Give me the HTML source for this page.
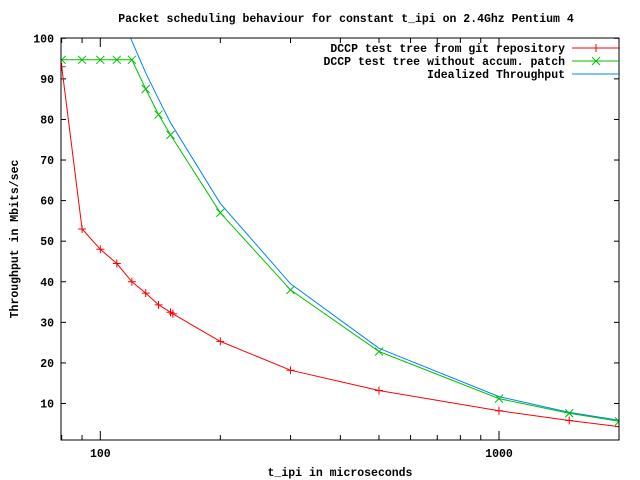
<!DOCTYPE html>
<html><head><meta charset="utf-8"><style>
body{margin:0;background:#fff}
svg{display:block}
text{font-family:"Liberation Mono",monospace;font-size:11.5px;font-weight:bold;fill:#000}
</style></head><body>
<svg id="s" width="640" height="480" xmlns="http://www.w3.org/2000/svg"></svg>
<script>
const X=v=>100.3+398.7*(Math.log10(v)-2);
const Y=v=>38.3+(100-v)*4.0576;
let h='<rect width="640" height="480" fill="#fff"/>';
h+='<text x="346" y="22" text-anchor="middle">Packet scheduling behaviour for constant t_ipi on 2.4Ghz Pentium 4</text>';
for(let v=10;v<=100;v+=10){const y=Y(v);h+=`<line x1="61" y1="${y}" x2="66" y2="${y}" stroke="#000"/><line x1="619" y1="${y}" x2="614" y2="${y}" stroke="#000"/><text x="54" y="${y+4}" text-anchor="end">${v}</text>`;}
for(const v of [80,90,100,200,300,400,500,600,700,800,900,1000,2000]){const x=X(v);const big=(v==100||v==1000);const L=big?9:5;h+=`<line x1="${x}" y1="440" x2="${x}" y2="${440-L}" stroke="#000"/><line x1="${x}" y1="38" x2="${x}" y2="${38+L}" stroke="#000"/>`;}
h+=`<text x="${X(100)}" y="457" text-anchor="middle">100</text><text x="${X(1000)}" y="457" text-anchor="middle">1000</text>`;
h+='<text x="340" y="476" text-anchor="middle">t_ipi in microseconds</text>';
h+='<text transform="translate(18,239) rotate(-90)" text-anchor="middle">Throughput in Mbits/sec</text>';
const red=[[80,93],[90,53],[100,48],[110,44.5],[120,40],[130,37.2],[140,34.3],[150,32.5],[152,32.1],[200,25.3],[300,18.2],[500,13.2],[1000,8.2],[1500,5.8],[2000,4.3]];
const green=[[80,94.7],[90,94.7],[100,94.7],[110,94.7],[120,94.7],[130,87.5],[140,81.2],[150,76.2],[200,57],[300,38],[500,22.8],[1000,11.2],[1500,7.6],[2000,5.6]];
const blue=[[119.2,100],[120,99.3],[130,91.5],[140,85],[150,79.2],[200,59.3],[300,39.5],[500,23.6],[1000,11.7],[1500,7.8],[2000,5.85]];
const pl=(d,c)=>`<polyline fill="none" stroke="${c}" stroke-width="1" points="${d.map(p=>X(p[0]).toFixed(1)+','+Y(p[1]).toFixed(1)).join(' ')}"/>`;
h+='<svg x="61" y="38" width="558" height="402" overflow="hidden"><g transform="translate(-61,-38)">';
h+=pl(blue,'#0080ff')+pl(green,'#00c000')+pl(red,'#ff0000');
for(const p of red){const x=X(p[0]),y=Y(p[1]);h+=`<path d="M${x-4},${y}h8M${x},${y-4}v8" stroke="#f00"/>`;}
for(const p of green){const x=X(p[0]),y=Y(p[1]);h+=`<path d="M${x-4},${y-4}l8,8M${x-4},${y+4}l8,-8" stroke="#00c000"/>`;}
h+='</g></svg>';
h+='<rect x="61" y="38" width="558" height="402" fill="none" stroke="#000"/>';
const leg=[['DCCP test tree from git repository','#f00','+'],['DCCP test tree without accum. patch','#00c000','x'],['Idealized Throughput','#0080ff','']];
leg.forEach((l,i)=>{const y=48+i*13;h+=`<text x="565" y="${y+4}" text-anchor="end">${l[0]}</text><line x1="572" y1="${y}" x2="620" y2="${y}" stroke="${l[1]}"/>`;
if(l[2]=='+')h+=`<path d="M592,${y}h8M596,${y-4}v8" stroke="${l[1]}"/>`;
if(l[2]=='x')h+=`<path d="M592,${y-4}l8,8M592,${y+4}l8,-8" stroke="${l[1]}"/>`;});
document.getElementById('s').innerHTML=h;
</script>
</body></html>
